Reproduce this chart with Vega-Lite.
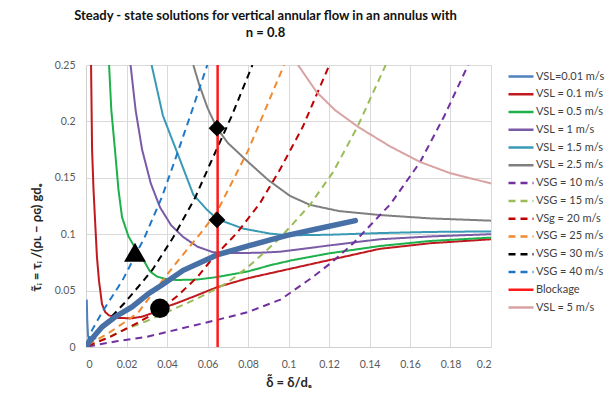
{
  "$schema": "https://vega.github.io/schema/vega-lite/v6.json",
  "width": 405,
  "height": 282,
  "autosize": {"type": "none"},
  "padding": {"left": 86, "top": 65, "right": 125, "bottom": 47},
  "background": "white",
  "title": {
    "text": ["Steady - state solutions for vertical annular flow in an annulus with", "n = 0.8"],
    "font": "Lato", "fontSize": 13, "fontWeight": "bold", "color": "#111111",
    "anchor": "middle", "frame": "group", "dx": -23, "offset": 20, "lineHeight": 17
  },
  "config": {
    "view": {"stroke": null},
    "axis": {
      "gridColor": "#d9d9d9", "gridWidth": 1, "domainColor": "#d0d0d0", "ticks": false,
      "labelFont": "Lato", "labelFontSize": 10.5, "labelColor": "#595959",
      "titleFont": "Lato", "titleFontWeight": "bold", "titleColor": "#262626", "titleFontSize": 13
    }
  },
  "datasets": {
    "curves": [
      {"s": "VSL=0.01 m/s", "x": 0.0004, "y": 0.042},
      {"s": "VSL=0.01 m/s", "x": 0.0006, "y": 0.025},
      {"s": "VSL=0.01 m/s", "x": 0.001, "y": 0.01},
      {"s": "VSL=0.01 m/s", "x": 0.002, "y": 0.005},
      {"s": "VSL=0.01 m/s", "x": 0.005, "y": 0.008},

      {"s": "VSL = 0.1 m/s", "x": 0.0025, "y": 0.25},
      {"s": "VSL = 0.1 m/s", "x": 0.003, "y": 0.175},
      {"s": "VSL = 0.1 m/s", "x": 0.0037, "y": 0.14},
      {"s": "VSL = 0.1 m/s", "x": 0.0044, "y": 0.115},
      {"s": "VSL = 0.1 m/s", "x": 0.0054, "y": 0.08},
      {"s": "VSL = 0.1 m/s", "x": 0.0064, "y": 0.059},
      {"s": "VSL = 0.1 m/s", "x": 0.0079, "y": 0.038},
      {"s": "VSL = 0.1 m/s", "x": 0.0095, "y": 0.031},
      {"s": "VSL = 0.1 m/s", "x": 0.0114, "y": 0.028},
      {"s": "VSL = 0.1 m/s", "x": 0.016, "y": 0.0257},
      {"s": "VSL = 0.1 m/s", "x": 0.0227, "y": 0.0255},
      {"s": "VSL = 0.1 m/s", "x": 0.028, "y": 0.027},
      {"s": "VSL = 0.1 m/s", "x": 0.0326, "y": 0.03},
      {"s": "VSL = 0.1 m/s", "x": 0.037, "y": 0.034},
      {"s": "VSL = 0.1 m/s", "x": 0.045, "y": 0.039},
      {"s": "VSL = 0.1 m/s", "x": 0.055, "y": 0.046},
      {"s": "VSL = 0.1 m/s", "x": 0.0647, "y": 0.053},
      {"s": "VSL = 0.1 m/s", "x": 0.08, "y": 0.061},
      {"s": "VSL = 0.1 m/s", "x": 0.1, "y": 0.069},
      {"s": "VSL = 0.1 m/s", "x": 0.12, "y": 0.077},
      {"s": "VSL = 0.1 m/s", "x": 0.145, "y": 0.087},
      {"s": "VSL = 0.1 m/s", "x": 0.17, "y": 0.092},
      {"s": "VSL = 0.1 m/s", "x": 0.2, "y": 0.0955},

      {"s": "VSL = 0.5 m/s", "x": 0.0114, "y": 0.25},
      {"s": "VSL = 0.5 m/s", "x": 0.0125, "y": 0.21},
      {"s": "VSL = 0.5 m/s", "x": 0.0143, "y": 0.175},
      {"s": "VSL = 0.5 m/s", "x": 0.016, "y": 0.14},
      {"s": "VSL = 0.5 m/s", "x": 0.0178, "y": 0.115},
      {"s": "VSL = 0.5 m/s", "x": 0.021, "y": 0.098},
      {"s": "VSL = 0.5 m/s", "x": 0.024, "y": 0.0887},
      {"s": "VSL = 0.5 m/s", "x": 0.0293, "y": 0.0742},
      {"s": "VSL = 0.5 m/s", "x": 0.0316, "y": 0.067},
      {"s": "VSL = 0.5 m/s", "x": 0.035, "y": 0.0625},
      {"s": "VSL = 0.5 m/s", "x": 0.04, "y": 0.06},
      {"s": "VSL = 0.5 m/s", "x": 0.045, "y": 0.0594},
      {"s": "VSL = 0.5 m/s", "x": 0.055, "y": 0.0598},
      {"s": "VSL = 0.5 m/s", "x": 0.0647, "y": 0.062},
      {"s": "VSL = 0.5 m/s", "x": 0.08, "y": 0.067},
      {"s": "VSL = 0.5 m/s", "x": 0.091, "y": 0.0725},
      {"s": "VSL = 0.5 m/s", "x": 0.102, "y": 0.077},
      {"s": "VSL = 0.5 m/s", "x": 0.12, "y": 0.083},
      {"s": "VSL = 0.5 m/s", "x": 0.145, "y": 0.0895},
      {"s": "VSL = 0.5 m/s", "x": 0.17, "y": 0.094},
      {"s": "VSL = 0.5 m/s", "x": 0.2, "y": 0.097},

      {"s": "VSL = 1 m/s", "x": 0.022, "y": 0.25},
      {"s": "VSL = 1 m/s", "x": 0.0245, "y": 0.21},
      {"s": "VSL = 1 m/s", "x": 0.0277, "y": 0.175},
      {"s": "VSL = 1 m/s", "x": 0.032, "y": 0.145},
      {"s": "VSL = 1 m/s", "x": 0.0365, "y": 0.124},
      {"s": "VSL = 1 m/s", "x": 0.042, "y": 0.108},
      {"s": "VSL = 1 m/s", "x": 0.048, "y": 0.0975},
      {"s": "VSL = 1 m/s", "x": 0.055, "y": 0.089},
      {"s": "VSL = 1 m/s", "x": 0.0627, "y": 0.084},
      {"s": "VSL = 1 m/s", "x": 0.0726, "y": 0.0833},
      {"s": "VSL = 1 m/s", "x": 0.085, "y": 0.0835},
      {"s": "VSL = 1 m/s", "x": 0.096, "y": 0.0845},
      {"s": "VSL = 1 m/s", "x": 0.12, "y": 0.09},
      {"s": "VSL = 1 m/s", "x": 0.145, "y": 0.0955},
      {"s": "VSL = 1 m/s", "x": 0.17, "y": 0.098},
      {"s": "VSL = 1 m/s", "x": 0.2, "y": 0.1},

      {"s": "VSL = 1.5 m/s", "x": 0.0324, "y": 0.25},
      {"s": "VSL = 1.5 m/s", "x": 0.038, "y": 0.205},
      {"s": "VSL = 1.5 m/s", "x": 0.0464, "y": 0.166},
      {"s": "VSL = 1.5 m/s", "x": 0.053, "y": 0.135},
      {"s": "VSL = 1.5 m/s", "x": 0.0596, "y": 0.122},
      {"s": "VSL = 1.5 m/s", "x": 0.0647, "y": 0.1135},
      {"s": "VSL = 1.5 m/s", "x": 0.0775, "y": 0.105},
      {"s": "VSL = 1.5 m/s", "x": 0.091, "y": 0.1005},
      {"s": "VSL = 1.5 m/s", "x": 0.1, "y": 0.099},
      {"s": "VSL = 1.5 m/s", "x": 0.12, "y": 0.0995},
      {"s": "VSL = 1.5 m/s", "x": 0.145, "y": 0.101},
      {"s": "VSL = 1.5 m/s", "x": 0.17, "y": 0.102},
      {"s": "VSL = 1.5 m/s", "x": 0.2, "y": 0.1025},

      {"s": "VSL = 2.5 m/s", "x": 0.053, "y": 0.25},
      {"s": "VSL = 2.5 m/s", "x": 0.056, "y": 0.232},
      {"s": "VSL = 2.5 m/s", "x": 0.06, "y": 0.212},
      {"s": "VSL = 2.5 m/s", "x": 0.0647, "y": 0.194},
      {"s": "VSL = 2.5 m/s", "x": 0.07, "y": 0.181},
      {"s": "VSL = 2.5 m/s", "x": 0.0795, "y": 0.165},
      {"s": "VSL = 2.5 m/s", "x": 0.09, "y": 0.148},
      {"s": "VSL = 2.5 m/s", "x": 0.1007, "y": 0.134},
      {"s": "VSL = 2.5 m/s", "x": 0.1106, "y": 0.126},
      {"s": "VSL = 2.5 m/s", "x": 0.125, "y": 0.1205},
      {"s": "VSL = 2.5 m/s", "x": 0.145, "y": 0.117},
      {"s": "VSL = 2.5 m/s", "x": 0.17, "y": 0.114},
      {"s": "VSL = 2.5 m/s", "x": 0.2, "y": 0.112},

      {"s": "VSG = 10 m/s", "x": 0.001, "y": 0.0005},
      {"s": "VSG = 10 m/s", "x": 0.015, "y": 0.005},
      {"s": "VSG = 10 m/s", "x": 0.03, "y": 0.009},
      {"s": "VSG = 10 m/s", "x": 0.048, "y": 0.0168},
      {"s": "VSG = 10 m/s", "x": 0.0647, "y": 0.024},
      {"s": "VSG = 10 m/s", "x": 0.08, "y": 0.031},
      {"s": "VSG = 10 m/s", "x": 0.096, "y": 0.042},
      {"s": "VSG = 10 m/s", "x": 0.112, "y": 0.062},
      {"s": "VSG = 10 m/s", "x": 0.122, "y": 0.076},
      {"s": "VSG = 10 m/s", "x": 0.132, "y": 0.092},
      {"s": "VSG = 10 m/s", "x": 0.1505, "y": 0.127},
      {"s": "VSG = 10 m/s", "x": 0.165, "y": 0.164},
      {"s": "VSG = 10 m/s", "x": 0.177, "y": 0.205},
      {"s": "VSG = 10 m/s", "x": 0.1887, "y": 0.25},

      {"s": "VSG = 15 m/s", "x": 0.001, "y": 0.001},
      {"s": "VSG = 15 m/s", "x": 0.01, "y": 0.008},
      {"s": "VSG = 15 m/s", "x": 0.02, "y": 0.016},
      {"s": "VSG = 15 m/s", "x": 0.03, "y": 0.023},
      {"s": "VSG = 15 m/s", "x": 0.04, "y": 0.031},
      {"s": "VSG = 15 m/s", "x": 0.055, "y": 0.043},
      {"s": "VSG = 15 m/s", "x": 0.0696, "y": 0.0567},
      {"s": "VSG = 15 m/s", "x": 0.08, "y": 0.071},
      {"s": "VSG = 15 m/s", "x": 0.0894, "y": 0.086},
      {"s": "VSG = 15 m/s", "x": 0.096, "y": 0.097},
      {"s": "VSG = 15 m/s", "x": 0.1106, "y": 0.126},
      {"s": "VSG = 15 m/s", "x": 0.122, "y": 0.155},
      {"s": "VSG = 15 m/s", "x": 0.134, "y": 0.195},
      {"s": "VSG = 15 m/s", "x": 0.148, "y": 0.25},

      {"s": "VSg = 20 m/s", "x": 0.001, "y": 0.001},
      {"s": "VSg = 20 m/s", "x": 0.012, "y": 0.009},
      {"s": "VSg = 20 m/s", "x": 0.025, "y": 0.021},
      {"s": "VSg = 20 m/s", "x": 0.035, "y": 0.031},
      {"s": "VSg = 20 m/s", "x": 0.0448, "y": 0.0447},
      {"s": "VSg = 20 m/s", "x": 0.055, "y": 0.062},
      {"s": "VSg = 20 m/s", "x": 0.0627, "y": 0.079},
      {"s": "VSg = 20 m/s", "x": 0.0745, "y": 0.101},
      {"s": "VSg = 20 m/s", "x": 0.0859, "y": 0.1274},
      {"s": "VSg = 20 m/s", "x": 0.096, "y": 0.158},
      {"s": "VSg = 20 m/s", "x": 0.107, "y": 0.195},
      {"s": "VSg = 20 m/s", "x": 0.1202, "y": 0.25},

      {"s": "VSG = 25 m/s", "x": 0.001, "y": 0.002},
      {"s": "VSG = 25 m/s", "x": 0.01, "y": 0.011},
      {"s": "VSG = 25 m/s", "x": 0.02, "y": 0.023},
      {"s": "VSG = 25 m/s", "x": 0.026, "y": 0.031},
      {"s": "VSG = 25 m/s", "x": 0.0349, "y": 0.0525},
      {"s": "VSG = 25 m/s", "x": 0.0464, "y": 0.0786},
      {"s": "VSG = 25 m/s", "x": 0.0579, "y": 0.1037},
      {"s": "VSG = 25 m/s", "x": 0.065, "y": 0.121},
      {"s": "VSG = 25 m/s", "x": 0.08, "y": 0.174},
      {"s": "VSG = 25 m/s", "x": 0.0978, "y": 0.25},

      {"s": "VSG = 30 m/s", "x": 0.001, "y": 0.003},
      {"s": "VSG = 30 m/s", "x": 0.008, "y": 0.018},
      {"s": "VSG = 30 m/s", "x": 0.019, "y": 0.039},
      {"s": "VSG = 30 m/s", "x": 0.0285, "y": 0.059},
      {"s": "VSG = 30 m/s", "x": 0.033, "y": 0.069},
      {"s": "VSG = 30 m/s", "x": 0.043, "y": 0.097},
      {"s": "VSG = 30 m/s", "x": 0.0538, "y": 0.132},
      {"s": "VSG = 30 m/s", "x": 0.0617, "y": 0.164},
      {"s": "VSG = 30 m/s", "x": 0.072, "y": 0.205},
      {"s": "VSG = 30 m/s", "x": 0.0822, "y": 0.25},

      {"s": "VSG = 40 m/s", "x": 0.0005, "y": 0.004},
      {"s": "VSG = 40 m/s", "x": 0.003, "y": 0.015},
      {"s": "VSG = 40 m/s", "x": 0.008, "y": 0.031},
      {"s": "VSG = 40 m/s", "x": 0.013, "y": 0.045},
      {"s": "VSG = 40 m/s", "x": 0.018, "y": 0.059},
      {"s": "VSG = 40 m/s", "x": 0.024, "y": 0.08},
      {"s": "VSG = 40 m/s", "x": 0.029, "y": 0.0975},
      {"s": "VSG = 40 m/s", "x": 0.0375, "y": 0.133},
      {"s": "VSG = 40 m/s", "x": 0.044, "y": 0.166},
      {"s": "VSG = 40 m/s", "x": 0.0515, "y": 0.205},
      {"s": "VSG = 40 m/s", "x": 0.0599, "y": 0.25},

      {"s": "Blockage", "x": 0.065, "y": 0},
      {"s": "Blockage", "x": 0.065, "y": 0.25},

      {"s": "VSL = 5 m/s", "x": 0.1047, "y": 0.25},
      {"s": "VSL = 5 m/s", "x": 0.1139, "y": 0.226},
      {"s": "VSL = 5 m/s", "x": 0.123, "y": 0.21},
      {"s": "VSL = 5 m/s", "x": 0.1345, "y": 0.195},
      {"s": "VSL = 5 m/s", "x": 0.15, "y": 0.178},
      {"s": "VSL = 5 m/s", "x": 0.165, "y": 0.164},
      {"s": "VSL = 5 m/s", "x": 0.18, "y": 0.154},
      {"s": "VSL = 5 m/s", "x": 0.2, "y": 0.145},

      {"s": "Locus", "x": 0, "y": 0},
      {"s": "Locus", "x": 0.0015, "y": 0.0044},
      {"s": "Locus", "x": 0.008, "y": 0.018},
      {"s": "Locus", "x": 0.0143, "y": 0.0266},
      {"s": "Locus", "x": 0.0227, "y": 0.0355},
      {"s": "Locus", "x": 0.031, "y": 0.0475},
      {"s": "Locus", "x": 0.0375, "y": 0.055},
      {"s": "Locus", "x": 0.048, "y": 0.068},
      {"s": "Locus", "x": 0.0647, "y": 0.0816},
      {"s": "Locus", "x": 0.081, "y": 0.09},
      {"s": "Locus", "x": 0.091, "y": 0.095},
      {"s": "Locus", "x": 0.0993, "y": 0.099},
      {"s": "Locus", "x": 0.115, "y": 0.105},
      {"s": "Locus", "x": 0.133, "y": 0.112}
    ],
    "markers": [
      {"m": "triangle", "x": 0.0242, "y": 0.084},
      {"m": "circle", "x": 0.0365, "y": 0.0343},
      {"m": "diamond", "x": 0.0647, "y": 0.194},
      {"m": "diamond", "x": 0.0647, "y": 0.1126}
    ]
  },
  "encoding": {
    "x": {
      "field": "x", "type": "quantitative",
      "scale": {"domain": [0, 0.2], "nice": false},
      "axis": {
        "values": [0, 0.02, 0.04, 0.06, 0.08, 0.1, 0.12, 0.14, 0.16, 0.18, 0.2],
        "format": "~g", "labelPadding": 12, "title": "δ̃ = δ/dₑ", "titlePadding": 7
      }
    },
    "y": {
      "field": "y", "type": "quantitative",
      "scale": {"domain": [0, 0.25], "nice": false},
      "axis": {
        "values": [0, 0.05, 0.1, 0.15, 0.2, 0.25],
        "format": "~g", "labelPadding": 11,
        "title": "τ̃ᵢ = τᵢ /(ρʟ − ρɢ) gdₑ",
        "titleX": -50, "titleY": 172, "titleAngle": -90, "titleAlign": "center", "titleBaseline": "middle"
      }
    }
  },
  "layer": [
    {
      "data": {"name": "curves"},
      "transform": [{"filter": "datum.s !== 'Locus' && datum.s !== 'Blockage'"}],
      "mark": {"type": "line", "strokeWidth": 2, "clip": true},
      "encoding": {
        "color": {
          "field": "s", "type": "nominal",
          "scale": {
            "domain": ["VSL=0.01 m/s", "VSL = 0.1 m/s", "VSL = 0.5 m/s", "VSL = 1 m/s", "VSL = 1.5 m/s", "VSL = 2.5 m/s", "VSG = 10 m/s", "VSG = 15 m/s", "VSg = 20 m/s", "VSG = 25 m/s", "VSG = 30 m/s", "VSG = 40 m/s", "Blockage", "VSL = 5 m/s"],
            "range": ["#4F81BD", "#C0191F", "#1DB04B", "#7A5BA6", "#3A9AB5", "#7F7F7F", "#7030A0", "#9BBB59", "#C00000", "#F08A30", "#000000", "#1F77C8", "#FF1A1A", "#D9A3A3"]
          },
          "legend": {
            "orient": "none", "legendX": 423.5, "legendY": 0, "title": null,
            "symbolType": "M-1.25,0H1.25", "symbolSize": 400, "symbolStrokeWidth": 2.5,
            "labelFont": "Lato", "labelFontSize": 11, "labelColor": "#404040",
            "labelOffset": 3.5, "rowPadding": 0.77, "padding": 0, "labelLimit": 120
          }
        },
        "strokeDash": {
          "field": "s", "type": "nominal",
          "scale": {
            "domain": ["VSL=0.01 m/s", "VSL = 0.1 m/s", "VSL = 0.5 m/s", "VSL = 1 m/s", "VSL = 1.5 m/s", "VSL = 2.5 m/s", "VSG = 10 m/s", "VSG = 15 m/s", "VSg = 20 m/s", "VSG = 25 m/s", "VSG = 30 m/s", "VSG = 40 m/s", "Blockage", "VSL = 5 m/s"],
            "range": [[1, 0], [1, 0], [1, 0], [1, 0], [1, 0], [1, 0], [7, 5], [7, 5], [7, 5], [7, 5], [7, 5], [7, 5], [1, 0], [1, 0]]
          },
          "legend": {
            "orient": "none", "legendX": 423.5, "legendY": 0, "title": null,
            "symbolType": "M-1.25,0H1.25", "symbolSize": 400, "symbolStrokeWidth": 2.5,
            "labelFont": "Lato", "labelFontSize": 11, "labelColor": "#404040",
            "labelOffset": 3.5, "rowPadding": 0.77, "padding": 0, "labelLimit": 120
          }
        }
      }
    },
    {
      "data": {"name": "curves"},
      "transform": [{"filter": "datum.s === 'Locus'"}],
      "mark": {"type": "line", "strokeWidth": 5.5, "color": "#4670A6", "strokeCap": "round", "clip": true},
      "encoding": {}
    },
    {
      "data": {"name": "curves"},
      "transform": [{"filter": "datum.s === 'Blockage'"}],
      "mark": {"type": "line", "strokeWidth": 2.5, "clip": true},
      "encoding": {
        "color": {"field": "s", "type": "nominal"},
        "strokeDash": {"field": "s", "type": "nominal"}
      }
    },
    {
      "data": {"name": "markers"},
      "mark": {"type": "point", "filled": true, "color": "#000000", "opacity": 1},
      "encoding": {
        "shape": {"field": "m", "type": "nominal", "scale": {"domain": ["triangle", "circle", "diamond"], "range": ["triangle-up", "circle", "diamond"]}, "legend": null},
        "size": {"field": "m", "type": "nominal", "scale": {"domain": ["triangle", "circle", "diamond"], "range": [480, 280, 560]}, "legend": null}
      }
    }
  ]
}
